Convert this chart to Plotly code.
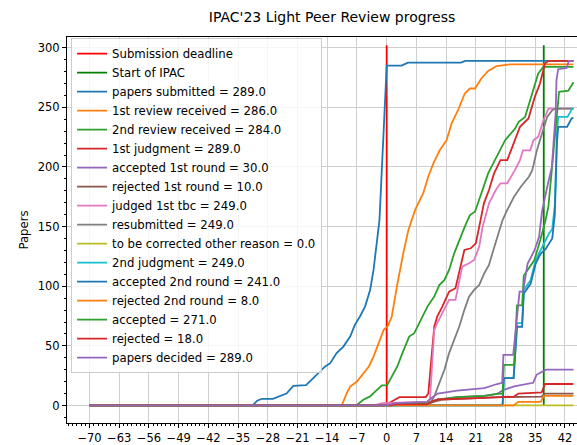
import plotly.graph_objects as go

# ---- data (days relative to submission deadline, cumulative paper counts) ----
deadline_day = 0
ipac_start_day = 37
marker_top = 302

sub_d = [-70, -31.6, -30.5, -29.4, -26.8, -25.0, -23.6, -22.0, -19.0, -17.3, -15.7, -14.5, -13.3, -11.8, -10.2, -8.6, -7.5, -6.3, -5.1, -3.9, -3.1, -2.3, -1.7, 0.0, 3.5, 5.0, 17.5, 18.5, 44]
sub_v = [0, 0, 4, 5.6, 5.6, 8, 10, 16.5, 17, 22.9, 28.5, 32.7, 35.5, 43.9, 49.4, 57.8, 67.6, 74.6, 82.9, 96.9, 113.7, 138.8, 155.5, 285, 285, 287.5, 287.5, 289, 289]

rev1_d = [-70, -10.6, -9.4, -8.6, -7.0, -5.4, -4.2, -3.1, -1.9, -0.7, 0.2, 1.2, 2.4, 3.1, 3.9, 5.1, 6.7, 8.6, 9.8, 11.0, 12.5, 14.1, 15.3, 16.8, 18.4, 19.6, 20.8, 22.3, 23.9, 25.9, 29.0, 44]
rev1_v = [0, 0, 10.4, 15.9, 20.1, 27.1, 32.7, 41, 52.3, 63.4, 66.2, 74.6, 99.7, 113.7, 127.6, 147, 164, 178, 192, 203, 214, 222.5, 236.5, 247.6, 261.6, 265.8, 265.8, 274.2, 280.5, 284.5, 286, 286]

rev2_d = [-70, -7.2, -5.5, -3.9, -2.3, -1.1, 0.1, 1.3, 2.5, 3.7, 5.3, 6.5, 8.1, 9.6, 11.2, 12.4, 13.6, 14.7, 15.9, 17.1, 18.4, 19.6, 20.8, 22.3, 23.9, 25.1, 26.7, 27.9, 30.2, 31.1, 32.6, 33.8, 34.9, 35.7, 36.9, 44]
rev2_v = [0, 0, 4.8, 7.6, 13.1, 16.8, 17, 24.3, 32.7, 43.9, 57.8, 60.6, 71.8, 82.9, 91.3, 101, 105.3, 113.7, 127.6, 138.8, 150, 159.7, 162.5, 178, 194.6, 203, 214, 222.5, 232, 237.9, 242, 256, 267, 278.4, 284, 284]

j1_d = [-70, -0.5, 1.5, 3.0, 9.2, 9.8, 11.2, 11.9, 13.1, 14.7, 16.2, 17.4, 18.3, 19.8, 21.0, 21.8, 22.9, 24.1, 25.3, 26.8, 28.4, 29.6, 30.2, 31.4, 33.4, 34.2, 34.9, 36.1, 37.3, 38.1, 44]
j1_v = [0, 0, 4, 7, 7, 10, 66, 74.6, 82.9, 95.5, 98.3, 116.4, 130.4, 131.8, 136, 150, 169.5, 180.7, 194.6, 205.8, 205.8, 216.9, 222.5, 233.7, 240.7, 250.4, 258.8, 270, 286.8, 289, 289]

a1_d = [-70, 0, 2, 9.5, 10.5, 12, 16.6, 23, 26, 27.5, 30, 34.5, 35.3, 37.5, 44]
a1_v = [0, 0, 1, 2, 3, 5, 7, 8, 9.8, 13, 16, 19, 25.7, 30, 30]

r1_d = [-70, 1, 2, 9.5, 11, 13, 20, 27, 36.5, 37.3, 44]
r1_v = [0, 0, 1, 1, 3, 5, 6, 7, 7.5, 10, 10]

tbc_d = [-70, -3, -1, 9.5, 10.2, 11.2, 11.9, 13.6, 14.7, 16.2, 17.8, 19.4, 20.6, 21.8, 22.6, 24.1, 25.7, 26.8, 28.4, 30.2, 31.4, 32.1, 33.8, 34.6, 35.7, 36.9, 38.1, 44]
tbc_v = [0, 0, 2, 3, 5, 63.4, 69, 80.2, 88.5, 88.5, 116.4, 119.3, 122, 133.2, 150, 169.5, 180.7, 186.3, 186.3, 197.4, 205.8, 214, 214, 222.5, 225.3, 239, 249, 249]

res_d = [-70, 10.0, 11.2, 12.4, 13.6, 14.7, 15.9, 17.1, 18.3, 19.4, 20.6, 21.8, 23.0, 24.1, 24.9, 26.1, 27.3, 28.4, 30.0, 31.6, 33.5, 34.3, 35.4, 36.6, 37.8, 39.0, 39.8, 44]
res_v = [0, 0, 7.6, 18.7, 29.9, 43.9, 55, 66.2, 80.2, 91.3, 96.9, 101.1, 110.9, 117.8, 127.6, 141.5, 155.5, 164, 175, 183.4, 191.8, 197.4, 214.2, 228.1, 242, 247.6, 249, 249]

oth_d = [-70, 44]
oth_v = [0, 0]

j2_d = [-70, 27.3, 27.6, 29.9, 30.7, 31.9, 32.3, 33.9, 35.1, 36.2, 37.4, 38.2, 39.0, 39.6, 40.1, 40.4, 42.6, 43.7, 44]
j2_v = [0, 0, 23, 23, 69, 69, 97, 105, 122, 130, 139, 144, 148, 168, 228, 242, 242, 249, 249]

a2_d = [-70, 27.3, 27.6, 29.9, 30.7, 31.9, 32.3, 33.9, 35.1, 36.2, 37.4, 38.2, 39.0, 39.6, 40.1, 40.4, 42.5, 43.6, 44]
a2_v = [0, 0, 23, 23, 66, 66, 94, 102, 119, 127, 131, 136, 140, 160, 220, 233.7, 233.7, 241, 241]

r2_d = [-70, 29.9, 31.0, 36.3, 37.0, 44]
r2_v = [0, 0, 3, 3, 8, 8]

acc_d = [-70, 0, 2, 9.5, 10.5, 12, 16.6, 23, 26, 27.3, 27.6, 30.0, 30.7, 31.9, 32.3, 34.8, 36.2, 37.4, 38.1, 39.5, 40.0, 40.6, 42.8, 43.9, 44]
acc_v = [0, 0, 1, 2, 3, 5, 7, 8, 9.8, 10, 34, 34, 84, 84, 109, 122, 139, 155, 167, 222.5, 245, 263, 264, 271, 271]

rej_d = [-70, 1, 2, 9.5, 10.5, 12, 20, 27, 30, 31, 36.5, 37.3, 44]
rej_v = [0, 0, 1, 1, 3, 5, 6, 7, 7.5, 10, 11, 18, 18]

pd_d = [-70, 0, 2, 9.5, 10.5, 12, 16.6, 23, 26, 27.2, 27.5, 29.8, 31.3, 32.1, 33.2, 34.8, 35.9, 36.6, 37.8, 38.9, 39.8, 40.0, 40.4, 42.4, 42.9, 44]
pd_v = [0, 0, 2, 3, 6, 10, 12.5, 14.5, 18, 19, 42.5, 42.5, 95.5, 95.5, 119, 130, 141.5, 163, 183, 200, 245, 273, 282, 283, 289, 289]

series = [
    ("papers submitted", sub_d, sub_v),
    ("1st review received", rev1_d, rev1_v),
    ("2nd review received", rev2_d, rev2_v),
    ("1st judgment", j1_d, j1_v),
    ("accepted 1st round", a1_d, a1_v),
    ("rejected 1st round", r1_d, r1_v),
    ("judged 1st tbc", tbc_d, tbc_v),
    ("resubmitted", res_d, res_v),
    ("to be corrected other reason", oth_d, oth_v),
    ("2nd judgment", j2_d, j2_v),
    ("accepted 2nd round", a2_d, a2_v),
    ("rejected 2nd round", r2_d, r2_v),
    ("accepted", acc_d, acc_v),
    ("rejected", rej_d, rej_v),
    ("papers decided", pd_d, pd_v),
]

x_ticks = list(range(-70, 43, 7))
y_ticks = [0, 50, 100, 150, 200, 250, 300]

palette = ['#1f77b4', '#ff7f0e', '#2ca02c', '#d62728', '#9467bd',
           '#8c564b', '#e377c2', '#7f7f7f', '#bcbd22', '#17becf']

FONT = "DejaVu Sans"
LW = 1.8

fig = go.Figure()
fig.add_trace(go.Scatter(x=[deadline_day, deadline_day], y=[0, marker_top], mode="lines",
                         name="Submission deadline", line=dict(color="red", width=LW)))
fig.add_trace(go.Scatter(x=[ipac_start_day, ipac_start_day], y=[0, marker_top], mode="lines",
                         name="Start of IPAC", line=dict(color="green", width=LW)))
for i, (label, d, v) in enumerate(series):
    fig.add_trace(go.Scatter(x=d, y=v, mode="lines", name=f"{label} = {float(v[-1]):.1f}",
                             line=dict(color=palette[i % 10], width=LW)))

axis_common = dict(
    showline=True, linecolor="#000000", linewidth=1,
    ticks="outside", ticklen=4, tickwidth=1, tickcolor="#000000",
    showgrid=True, gridcolor="#cfcfcf", gridwidth=1,
    zeroline=False, automargin=False,
    tickfont=dict(family=FONT, size=11.5, color="#000000"),
)

fig.update_layout(
    template="none",
    width=577, height=445,
    margin=dict(l=67, r=0, t=37, b=22, pad=0),
    paper_bgcolor="white", plot_bgcolor="white",
    font=dict(family=FONT, color="#000000"),
    title=dict(text="IPAC'23 Light Peer Review progress", x=332 / 577, xref="container",
               xanchor="center", y=1 - 17 / 445, yref="container", yanchor="middle",
               font=dict(family=FONT, size=14, color="#000000")),
    xaxis=dict(range=[-75.31, 44.83], tickmode="array", tickvals=x_ticks, mirror=True,
               minor=dict(dtick=1, tick0=0, ticks="outside", ticklen=2, tickcolor="#000000", showgrid=False),
               **axis_common),
    yaxis=dict(range=[-14.7, 309], tickmode="array", tickvals=y_ticks, mirror=False,
               minor=dict(dtick=10, tick0=0, ticks="outside", ticklen=2, tickcolor="#000000", showgrid=False),
               title=dict(text="Papers", standoff=6, font=dict(family=FONT, size=11.7, color="#000000")),
               **axis_common),
    legend=dict(x=0.008, y=0.997, xanchor="left", yanchor="top",
                bgcolor="rgba(255,255,255,0.8)", bordercolor="#cccccc", borderwidth=1,
                font=dict(family=FONT, size=11.7, color="#000000"),
                itemwidth=30, tracegroupgap=0),
    showlegend=True,
)

fig.write_html("out.html",
               config={"displayModeBar": False},
               post_script="document.body.style.margin='0';document.body.style.padding='0';"
                           "document.body.style.overflow='hidden';")
